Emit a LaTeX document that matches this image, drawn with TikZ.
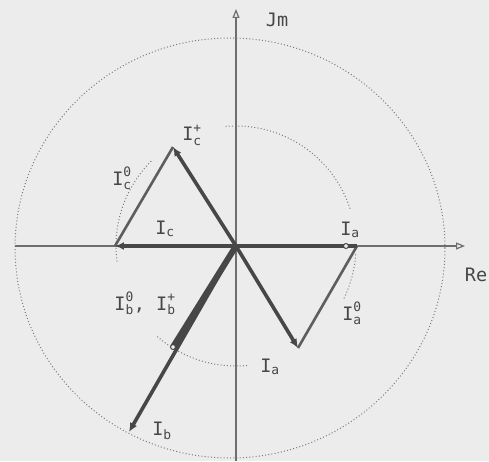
\documentclass[tikz,border=0pt]{standalone}
\usepackage{fontspec}
\usepackage{amsmath}
\setmonofont{DejaVu Sans Mono}
\usetikzlibrary{arrows.meta}

\definecolor{bggrey}{HTML}{ECECEC}
\definecolor{axisgrey}{HTML}{6E6E6E}
\definecolor{dotgrey}{HTML}{7C7C7C}
\definecolor{phgrey}{HTML}{474747}
\definecolor{compgrey}{HTML}{5E5E5E}
\definecolor{lblgrey}{HTML}{474747}

\newcommand*{\rsmall}{120}
\newcommand*{\cur}[2]{\ensuremath{\text{I}_{\text{#1}}^{\text{#2}}}}
\newcommand*{\curb}[1]{\ensuremath{\text{I}_{\text{#1}}}}

\begin{document}
\begin{tikzpicture}
[
	x=1pt, y=1pt,
	font=\ttfamily\fontsize{18.5}{20}\selectfont,
	axis/.style={line width=1.2pt,draw=axisgrey,-{Triangle[open,length=9pt,width=7pt]}},
	dotcirc/.style={draw=dotgrey,line width=1pt,dash pattern=on 1pt off 2.2pt},
	phasor/.style={line width=3.6pt,draw=phgrey,-{Latex[length=9pt,width=8pt]}},
	comp/.style={line width=2.6pt,draw=compgrey},
	tipmark/.style={circle,draw=phgrey,fill=bggrey,line width=1pt,inner sep=0pt,minimum size=5pt},
	lbl/.style={text=lblgrey,inner sep=1pt},
]

	% background and frame
	\fill[bggrey] (-236,-215) rectangle (253,246);
	\useasboundingbox (-236,-215) rectangle (253,246);

	% points
	\coordinate (O) at (0,0);
	\coordinate (xl) at (-221,0);
	\coordinate (xr) at (229,0);
	\coordinate (yb) at (0,-215);
	\coordinate (yt) at (0,237);
	\coordinate (A) at (121,0);
	\coordinate (P) at (62,-102);
	\coordinate (Cp) at (-63,99);
	\coordinate (C) at (-121,0);
	\coordinate (B) at (-107,-186);
	\coordinate (Bm) at (-63,-101);

	% circles
	\draw[dotcirc] (-6,-2) ellipse [x radius=215, y radius=210];
	\draw[dotcirc] ([shift={(95:\rsmall)}]O) arc[start angle=95, end angle=18, radius=\rsmall];
	\draw[dotcirc] ([shift={(-4:\rsmall)}]O) arc[start angle=-4, end angle=-26, radius=\rsmall];
	\draw[dotcirc] ([shift={(135:\rsmall)}]O) arc[start angle=135, end angle=188, radius=\rsmall];
	\draw[dotcirc] ([shift={(229:\rsmall)}]O) arc[start angle=229, end angle=276, radius=\rsmall];

	% axes
	\draw[axis] (xl) -- (xr);
	\draw[axis] (yb) -- (yt);
	\node[lbl] (jm) at (41,226) {Jm};
	\node[lbl] (re) at (240,-29) {Re};

	% components
	\draw[comp] (A) -- (P);
	\draw[comp] (Cp) -- (C);
	\draw[line width=6pt,draw=phgrey] (O) -- (Bm);

	% phasors
	\draw[line width=3.6pt,draw=phgrey] (O) -- (A);
	\draw[phasor] (O) -- (P);
	\draw[phasor] (O) -- (Cp);
	\draw[phasor] (O) -- (C);
	\draw[phasor] (O) -- (B);
	\node[tipmark] (markA) at (110,0) {};
	\node[tipmark] (markB) at (Bm) {};

	% labels
	\node[lbl] (lCp) at (-44,111) {\cur{c}{+}};
	\node[lbl] (lC0) at (-114,68) {\cur{c}{0}};
	\node[lbl] (lC) at (-71,17) {\curb{c}};
	\node[lbl] (lA) at (114,16) {\curb{a}};
	\node[lbl] (lA0) at (116,-67) {\cur{a}{0}};
	\node[lbl] (lAl) at (34,-121) {\curb{a}};
	\node[lbl] (lB0) at (-91,-57) {\cur{b}{0}, \cur{b}{+}};
	\node[lbl] (lB) at (-74,-185) {\curb{b}};

\end{tikzpicture}
\end{document}
